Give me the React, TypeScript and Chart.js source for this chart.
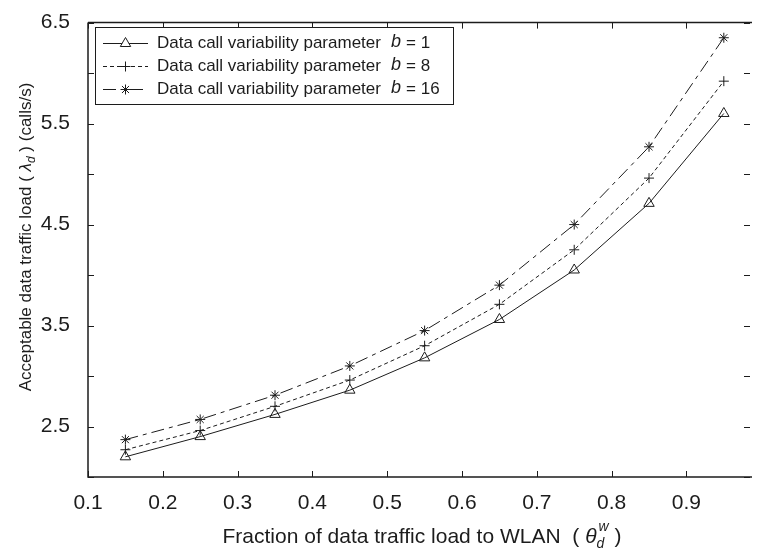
import React, { useEffect, useRef } from "react";
import { Chart, registerables } from "chart.js";

Chart.register(...registerables);

const X_VALUES = [0.15, 0.25, 0.35, 0.45, 0.55, 0.65, 0.75, 0.85, 0.95];
const B1_VALUES = [2.2, 2.4, 2.62, 2.86, 3.18, 3.56, 4.05, 4.71, 5.6];
const B8_VALUES = [2.27, 2.46, 2.7, 2.96, 3.3, 3.71, 4.25, 4.96, 5.92];
const B16_VALUES = [2.37, 2.57, 2.81, 3.1, 3.45, 3.9, 4.5, 5.27, 6.35];
const SERIES_B = ["1", "8", "16"];
const LEGEND_PREFIX = "Data call variability parameter";
const X_TICKS = [0.1, 0.2, 0.3, 0.4, 0.5, 0.6, 0.7, 0.8, 0.9];
const Y_TICKS = [2, 2.5, 3, 3.5, 4, 4.5, 5, 5.5, 6, 6.5];
const Y_LABELED = [2.5, 3.5, 4.5, 5.5, 6.5];
const X_TITLE = "Fraction of data traffic load to WLAN";
const Y_TITLE_PRE = "Acceptable data traffic load";
const Y_TITLE_POST = "(calls/s)";

const FONT = "'Liberation Sans', Arial, Helvetica, sans-serif";
const INK = "#1c1c1c";
const STYLES = [
  { dash: [] as number[], marker: "triangle" },
  { dash: [4, 3], marker: "plus" },
  { dash: [13, 5, 4, 5], marker: "star" },
];

function drawMarker(ctx: CanvasRenderingContext2D, kind: string, x: number, y: number) {
  ctx.save();
  ctx.setLineDash([]);
  ctx.strokeStyle = INK;
  ctx.lineWidth = 1;
  ctx.beginPath();
  if (kind === "triangle") {
    const r = 6;
    ctx.moveTo(x, y - r);
    ctx.lineTo(x + r * 0.866, y + r * 0.5);
    ctx.lineTo(x - r * 0.866, y + r * 0.5);
    ctx.closePath();
    ctx.fillStyle = "#fff";
    ctx.fill();
  } else if (kind === "plus") {
    const r = 5;
    ctx.moveTo(x - r, y);
    ctx.lineTo(x + r, y);
    ctx.moveTo(x, y - r);
    ctx.lineTo(x, y + r);
  } else {
    const r = 5;
    ctx.moveTo(x - r, y);
    ctx.lineTo(x + r, y);
    ctx.moveTo(x, y - r);
    ctx.lineTo(x, y + r);
    const d = r * 0.707;
    ctx.moveTo(x - d, y - d);
    ctx.lineTo(x + d, y + d);
    ctx.moveTo(x - d, y + d);
    ctx.lineTo(x + d, y - d);
  }
  ctx.stroke();
  ctx.restore();
}

const framePlugin = {
  id: "matlabFrame",
  afterDraw(chart: any) {
    const { ctx, chartArea, scales } = chart;
    const { left, right, top, bottom } = chartArea;
    const xs = scales.x;
    const ys = scales.y;
    ctx.save();
    ctx.strokeStyle = INK;
    ctx.lineWidth = 1.5;
    ctx.setLineDash([]);
    ctx.beginPath();
    ctx.moveTo(left, top);
    ctx.lineTo(right + 2, top);
    ctx.moveTo(left, top);
    ctx.lineTo(left, bottom);
    ctx.lineTo(right + 2, bottom);
    ctx.stroke();
    ctx.lineWidth = 1;
    const tl = 6;
    ctx.beginPath();
    X_TICKS.forEach((v) => {
      const px = Math.round(xs.getPixelForValue(v)) + 0.5;
      ctx.moveTo(px, bottom);
      ctx.lineTo(px, bottom - tl);
      ctx.moveTo(px, top);
      ctx.lineTo(px, top + tl);
    });
    Y_TICKS.forEach((v) => {
      const py = Math.round(ys.getPixelForValue(v)) + 0.5;
      ctx.moveTo(left, py);
      ctx.lineTo(left + tl, py);
      ctx.moveTo(right, py);
      ctx.lineTo(right - tl, py);
    });
    ctx.stroke();

    // X title
    ctx.fillStyle = INK;
    ctx.textBaseline = "alphabetic";
    const xf = `21px ${FONT}`;
    const xfi = `italic 21px ${FONT}`;
    const xfs = `italic 14px ${FONT}`;
    ctx.font = xf;
    const p1 = X_TITLE + "  ( ";
    const w1 = ctx.measureText(p1).width;
    ctx.font = xfi;
    const wth = ctx.measureText("\u03B8").width;
    ctx.font = xfs;
    const wsub = ctx.measureText("d").width;
    const wsup = ctx.measureText("w").width;
    ctx.font = xf;
    const wclose = ctx.measureText(" )").width;
    const total = w1 + wth + Math.max(wsub, wsup) + 2 + wclose;
    let cx = (left + right) / 2 - total / 2 + 3;
    const by = 543;
    ctx.font = xf;
    ctx.fillText(p1, cx, by);
    cx += w1;
    ctx.font = xfi;
    ctx.fillText("\u03B8", cx, by);
    cx += wth;
    ctx.font = xfs;
    ctx.fillText("d", cx, by + 5);
    ctx.fillText("w", cx + 2, by - 12);
    cx += Math.max(wsub, wsup) + 2;
    ctx.font = xf;
    ctx.fillText(" )", cx, by);

    // Y title (rotated)
    ctx.save();
    ctx.translate(30.5, 237);
    ctx.rotate(-Math.PI / 2);
    const yf = `17px ${FONT}`;
    const yfi = `italic 17px ${FONT}`;
    const yfs = `italic 12px ${FONT}`;
    ctx.font = yf;
    const q1 = Y_TITLE_PRE + " ( ";
    const q2 = " ) " + Y_TITLE_POST;
    const wq1 = ctx.measureText(q1).width;
    const wq2 = ctx.measureText(q2).width;
    ctx.font = yfi;
    const wl = ctx.measureText("\u03BB").width;
    ctx.font = yfs;
    const wd = ctx.measureText("d").width;
    const ytot = wq1 + wl + wd + wq2;
    let ty = -ytot / 2;
    ctx.font = yf;
    ctx.fillText(q1, ty, 0);
    ty += wq1;
    ctx.font = yfi;
    ctx.fillText("\u03BB", ty, 0);
    ty += wl;
    ctx.font = yfs;
    ctx.fillText("d", ty, 4);
    ty += wd;
    ctx.font = yf;
    ctx.fillText(q2, ty, 0);
    ctx.restore();

    // Legend
    const lx = 95.5, ly = 27.5, lw = 358, lh = 77;
    ctx.fillStyle = "#fff";
    ctx.fillRect(lx, ly, lw, lh);
    ctx.strokeStyle = INK;
    ctx.lineWidth = 1;
    ctx.strokeRect(lx, ly, lw, lh);
    const rows = [43, 66, 89];
    SERIES_B.forEach((b, i) => {
      const y = rows[i] + 0.5;
      const st = STYLES[i];
      ctx.save();
      ctx.strokeStyle = INK;
      ctx.lineWidth = 1;
      ctx.setLineDash(st.dash);
      ctx.beginPath();
      ctx.moveTo(103, y);
      ctx.lineTo(148, y);
      ctx.stroke();
      ctx.restore();
      drawMarker(ctx, st.marker, 125.5, y);
      ctx.fillStyle = INK;
      ctx.textBaseline = "middle";
      ctx.font = `17px ${FONT}`;
      let tx = 157;
      ctx.fillText(LEGEND_PREFIX, tx, y);
      tx += ctx.measureText(LEGEND_PREFIX).width + 10;
      ctx.font = `italic 18px ${FONT}`;
      ctx.fillText("b", tx, y - 2);
      tx += ctx.measureText("b").width + 5;
      ctx.font = `17px ${FONT}`;
      ctx.fillText("=", tx, y);
      tx += ctx.measureText("=").width + 5;
      ctx.fillText(b, tx, y);
    });
    ctx.restore();
  },
};

export default function App() {
  const ref = useRef<HTMLCanvasElement | null>(null);
  useEffect(() => {
    const canvas = ref.current;
    if (!canvas) return;
    const seriesVals = [B1_VALUES, B8_VALUES, B16_VALUES];
    const pointStyles = ["triangle", "cross", "star"];
    const radii = [6, 5, 5];
    const chart = new Chart(canvas, {
      type: "line",
      data: {
        datasets: seriesVals.map((vals, i) => ({
          label: LEGEND_PREFIX + " b = " + SERIES_B[i],
          data: X_VALUES.map((x, j) => ({ x, y: vals[j] })),
          borderColor: INK,
          borderWidth: 1,
          borderDash: STYLES[i].dash,
          backgroundColor: i === 0 ? "rgba(255,255,255,0)" : INK,
          pointStyle: pointStyles[i] as any,
          pointRadius: radii[i],
          pointBorderColor: INK,
          pointBorderWidth: 1,
          pointBackgroundColor: "rgba(255,255,255,0)",
          tension: 0,
          fill: false,
        })),
      },
      options: {
        animation: false,
        responsive: false,
        maintainAspectRatio: false,
        layout: { padding: { top: 18, right: 0, left: 0, bottom: 0 } },
        plugins: { legend: { display: false }, tooltip: { enabled: false } },
        scales: {
          x: {
            type: "linear",
            min: 0.1,
            max: 0.985,
            grid: { display: false },
            border: { display: false },
            afterBuildTicks: (s: any) => {
              s.ticks = X_TICKS.map((v) => ({ value: v }));
            },
            afterFit: (s: any) => {
              s.height = 73;
            },
            ticks: {
              padding: 6,
              color: INK,
              font: { family: FONT, size: 21 },
              maxRotation: 0,
              autoSkip: false,
              callback: (v: any) => Number(v).toFixed(1),
            },
          },
          y: {
            type: "linear",
            min: 2,
            max: 6.5,
            grid: { display: false },
            border: { display: false },
            afterBuildTicks: (s: any) => {
              s.ticks = Y_TICKS.map((v) => ({ value: v }));
            },
            afterFit: (s: any) => {
              s.width = 88;
            },
            ticks: {
              padding: 10,
              color: INK,
              font: { family: FONT, size: 21 },
              autoSkip: false,
              callback: (v: any) =>
                Y_LABELED.some((l) => Math.abs(l - Number(v)) < 1e-9) ? Number(v).toFixed(1) : "",
            },
          },
        },
      },
      plugins: [framePlugin],
    });
    return () => chart.destroy();
  }, []);
  return (
    <div style={{ position: "fixed", left: 0, top: 0, width: 757, height: 550, background: "#fff" }}>
      <canvas ref={ref} width={757} height={550} style={{ width: 757, height: 550, display: "block" }} />
    </div>
  );
}
